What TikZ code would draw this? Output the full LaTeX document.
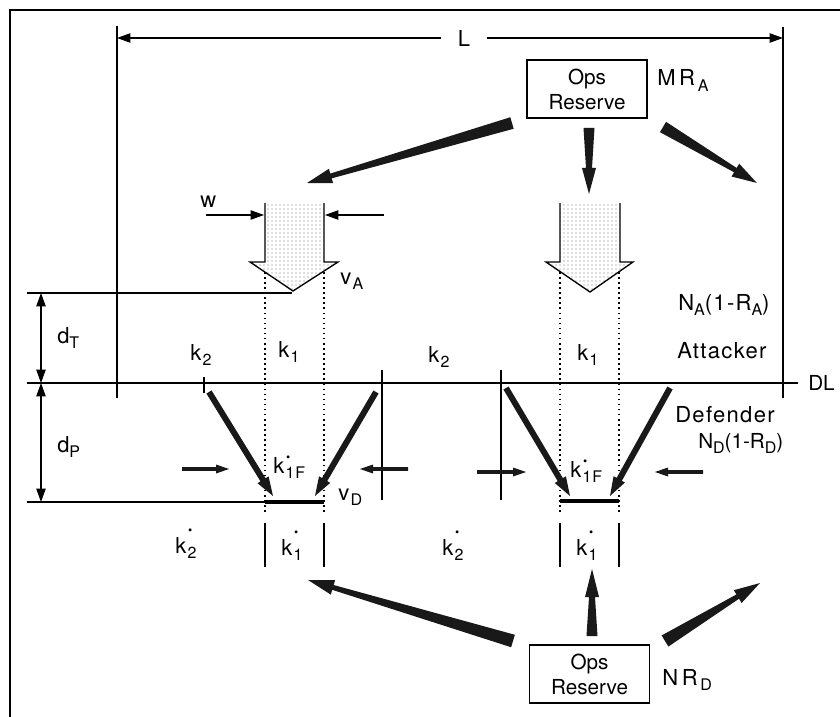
\documentclass[tikz,border=0pt]{standalone}
\usepackage{fontspec}
\setmainfont{TeX Gyre Heros}
\usetikzlibrary{arrows.meta,calc,patterns}
\newfontfamily\lblfont[LetterSpace=6]{TeX Gyre Heros}
\newcommand\sbs[1]{\raisebox{-4pt}{\fontsize{12}{12}\selectfont #1}}
\newcommand\kdot[2][18pt]{k\kern1pt\sbs{\rlap{\raisebox{#1}{\fontsize{9}{9}\selectfont\kern0.3pt •}}#2}}
\newcommand\taper[6]{%
  \path let \p1=($(#2)-(#1)$) in \pgfextra{\pgfmathparse{atan2(\y1,\x1)}\xdef\tang{\pgfmathresult}\pgfmathparse{veclen(\x1,\y1)}\xdef\tlen{\pgfmathresult}};
  \fill[black!90, shift={(#1)}, rotate=\tang]
    (0pt,{#3*0.75pt}) -- ({\tlen pt-#6*0.75pt},{#4*0.75pt}) -- ({\tlen pt-#6*0.75pt},{#5*0.75pt})
    -- (\tlen pt,0pt) -- ({\tlen pt-#6*0.75pt},{-#5*0.75pt}) -- ({\tlen pt-#6*0.75pt},{-#4*0.75pt})
    -- (0pt,{-#3*0.75pt}) -- cycle;}
\tikzset{
  lbl/.style={inner sep=0pt, anchor=base west, font=\lblfont\fontsize{16.5}{18}\selectfont},
  plainlbl/.style={inner sep=0pt, anchor=base west, font=\fontsize{15.5}{18}\selectfont},
  opsbox/.style={draw, line width=1pt, minimum width=90pt, minimum height=43.5pt, align=center,
    inner sep=0pt, font=\fontsize{15.5}{18.75}\selectfont},
  thinline/.style={line width=0.8pt},
  dimline/.style={line width=0.8pt, -{Triangle[length=10pt,width=7pt]}},
  dimboth/.style={line width=0.8pt, {Triangle[length=10pt,width=7pt]}-{Triangle[length=10pt,width=7pt]}},
  dotline/.style={line width=1pt, dash pattern=on 1.2pt off 2.6pt},
  heavyline/.style={line width=2.4pt},
  bigarrow/.style={line width=1pt},
}
\begin{document}
\begin{tikzpicture}[x=0.75pt,y=-0.75pt]
\useasboundingbox (0,0) rectangle (840,717);
% frame
\draw[line width=2pt] (10,717) -- (10,10) -- (840,10);

% boxes
\node[opsbox] (tbox) at (587,89) {Ops\\Reserve};
\node[opsbox] (bbox) at (589.5,674) {Ops\\Reserve};
\node[lbl] (mra) at (657,86) {M\,R\kern2pt\sbs{A}};
\node[lbl] (nrd) at (662,685) {N\,R\kern2pt\sbs{D}};

% L dimension
\coordinate (Lv1t) at (117,26); \coordinate (Lv1b) at (117,398);
\coordinate (Lv2t) at (783,27); \coordinate (Lv2b) at (783,398);
\draw[thinline] (Lv1t) -- (Lv1b);
\draw[thinline] (Lv2t) -- (Lv2b);
\coordinate (Lleft) at (117,38); \coordinate (Lright) at (783,38);
\node[inner sep=0pt, minimum width=34pt, font=\fontsize{16.5}{18}\selectfont] (Llbl) at (464,38) {L};
\draw[dimline] (Llbl) -- (Lleft);
\draw[dimline] (Llbl) -- (Lright);

% big hollow arrows
\fill[pattern=dots, pattern color=black!55] (265,203) -- (265,262) -- (250,262) -- (293,291) -- (338,262) -- (324,262) -- (324,203) -- cycle;
\draw[bigarrow] (265,203) -- (265,262) -- (250,262) -- (293,291) -- (338,262) -- (324,262) -- (324,203);
\fill[pattern=dots, pattern color=black!55] (560,203) -- (560,262) -- (546,262) -- (590,292) -- (633,262) -- (620,262) -- (620,203) -- cycle;
\draw[bigarrow] (560,203) -- (560,262) -- (546,262) -- (590,292) -- (633,262) -- (620,262) -- (620,203);

% w dimension
\node[lbl] (wl) at (200,207) {w};
\coordinate (w1s) at (206,215); \coordinate (w1e) at (264,215);
\coordinate (w2s) at (384,215); \coordinate (w2e) at (325,215);
\draw[dimline] (w1s) -- (w1e);
\draw[dimline] (w2s) -- (w2e);
\node[lbl] (va) at (340,284) {v\kern1pt\sbs{A}};

% dotted lines
\foreach \xx/\nm in {265/a,324/b,560/c,619/d}{
  \coordinate (dt\nm) at (\xx,272); \coordinate (db\nm) at (\xx,512);
  \draw[dotline] (dt\nm) -- (db\nm);
}

% horizontal reference lines
\coordinate (hT1) at (27,293); \coordinate (hT2) at (292,293);
\draw[thinline] (hT1) -- (hT2);
\coordinate (dl1) at (27,383);
\node[plainlbl] (DL) at (808,390) {DL};
\coordinate (dl2) at (798,383);
\draw[thinline] (dl1) -- (dl2);
\coordinate (hP1) at (27,502); \coordinate (hP2) at (265,502); \coordinate (hP3) at (324,502);
\draw[thinline] (hP1) -- (hP2);
\draw[heavyline] (hP2) -- (hP3);
\coordinate (hQ1) at (560,501); \coordinate (hQ2) at (619,501);
\draw[heavyline] (hQ1) -- (hQ2);

% d dimensions
\coordinate (dT1) at (41,293); \coordinate (dT2) at (41,383); \coordinate (dP2) at (41,502);
\draw[dimboth] (dT1) -- (dT2);
\draw[dimboth] (dT2) -- (dP2);
\node[lbl] (dTl) at (57,343) {d\sbs{T}};
\node[lbl] (dPl) at (57,452) {d\sbs{P}};

% k labels
\node[lbl] (k2a) at (190,360) {k\kern1pt\sbs{2}};
\node[lbl] (k1a) at (278,357) {k\kern1pt\sbs{1}};
\node[lbl] (k2b) at (428,362) {k\kern1pt\sbs{2}};
\node[lbl] (k1b) at (577,360) {k\kern1pt\sbs{1}};
\node[lbl] (NA) at (678,310) {N\sbs{A}(1-R\sbs{A})};
\node[lbl] (att) at (677,358) {Attacker};
\node[lbl] (def) at (675,422) {Defender};
\node[plainlbl] (ND) at (698,448) {N\sbs{D}(1-R\sbs{D})};

% vertical ticks
\coordinate (t1a) at (204,377); \coordinate (t1b) at (204,393);
\draw[thinline] (t1a) -- (t1b);
\coordinate (t2a) at (382,370); \coordinate (t2b) at (382,500);
\draw[thinline] (t2a) -- (t2b);
\coordinate (t3a) at (501,370); \coordinate (t3b) at (501,500);
\draw[thinline] (t3a) -- (t3b);
\foreach \xx/\nm in {265/a,324/b,560/c,619/d}{
  \coordinate (bt\nm) at (\xx,523); \coordinate (bb\nm) at (\xx,567);
  \draw[thinline] (bt\nm) -- (bb\nm);
}

% k-dot labels
\node[lbl] (k1Fa) at (273,473) {\kdot[13pt]{1F}};
\node[lbl] (k1Fb) at (570,477) {\kdot[13pt]{1F}};
\node[lbl] (vD) at (338,500) {v\kern1pt\sbs{D}};
\node[lbl] (ks2a) at (175,553) {\kdot{2}};
\node[lbl] (ks1a) at (281,555) {\kdot{1}};
\node[lbl] (ks2b) at (442,555) {\kdot{2}};
\node[lbl] (ks1b) at (576,555) {\kdot{1}};

% attacker reserve arrows
\coordinate (ta1) at (512,123); \coordinate (ta1e) at (307,183);
\coordinate (ta2) at (589,128); \coordinate (ta2e) at (589,194);
\coordinate (ta3) at (663,127); \coordinate (ta3e) at (757,183);
\taper{ta1}{ta1e}{6}{2.5}{7.5}{25}
\taper{ta2}{ta2e}{5.5}{3}{7}{26}
\taper{ta3}{ta3e}{6}{2.5}{7.5}{25}

% defender diagonal arrows
\coordinate (d1) at (209,392); \coordinate (d1e) at (273,496);
\coordinate (d2) at (376,392); \coordinate (d2e) at (315,496);
\coordinate (d3) at (506,388); \coordinate (d3e) at (570,496);
\coordinate (d4) at (670,388); \coordinate (d4e) at (610,496);
\taper{d1}{d1e}{3}{3}{6.5}{19}
\taper{d2}{d2e}{3}{3}{6.5}{19}
\taper{d3}{d3e}{3}{3}{6.5}{19}
\taper{d4}{d4e}{3}{3}{6.5}{19}

% small horizontal arrows
\coordinate (h1) at (182,469); \coordinate (h1e) at (229,469);
\coordinate (h2) at (408,469); \coordinate (h2e) at (360,469);
\coordinate (h3) at (477,472); \coordinate (h3e) at (526,472);
\coordinate (h4) at (703,472); \coordinate (h4e) at (655,472);
\taper{h1}{h1e}{1.8}{1.8}{4.5}{13}
\taper{h2}{h2e}{1.8}{1.8}{4.5}{13}
\taper{h3}{h3e}{1.8}{1.8}{4.5}{13}
\taper{h4}{h4e}{1.8}{1.8}{4.5}{13}

% defender reserve arrows
\coordinate (b1) at (513,641); \coordinate (b1e) at (308,580);
\coordinate (b2) at (592,636); \coordinate (b2e) at (592,569);
\coordinate (b3) at (665,641); \coordinate (b3e) at (760,583);
\taper{b1}{b1e}{6.5}{2.5}{7.5}{26}
\taper{b2}{b2e}{5.5}{3}{7}{28}
\taper{b3}{b3e}{6.5}{2.5}{7.5}{26}
\end{tikzpicture}
\end{document}
